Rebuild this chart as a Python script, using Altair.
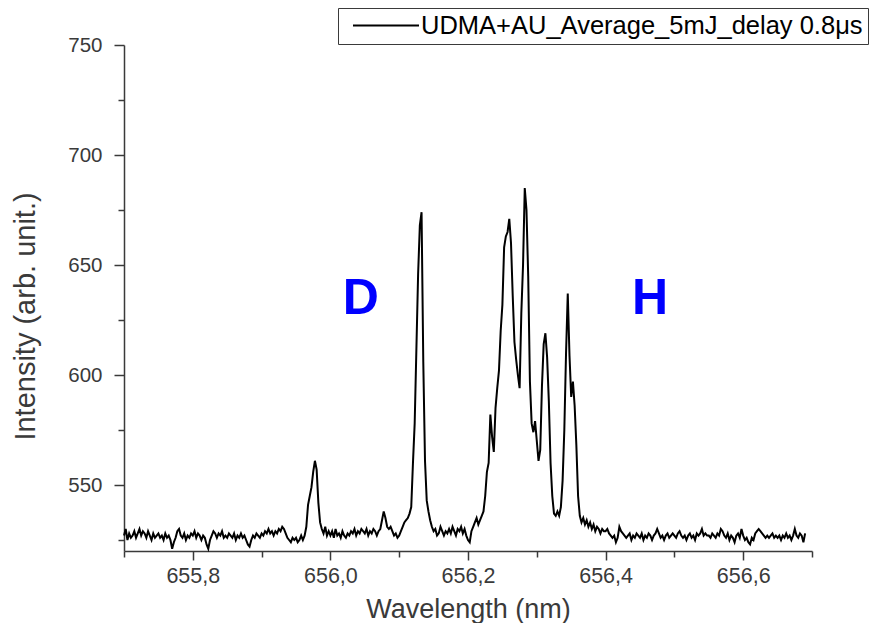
import altair as alt
import pandas as pd

# ---- data ----
WL_START = 655.70      # nm, first sample
WL_STEP = 0.0025       # nm, sampling step

intensity = [
    527, 530, 525, 528, 526, 527, 529, 526, 528, 530, 527, 529, 528, 526, 529, 527, 525, 528, 526, 527,
    528, 526, 527, 525, 528, 526, 527, 525, 521, 524, 526, 529, 530, 527, 526, 528, 525, 527, 526, 528,
    527, 529, 526, 528, 527, 525, 527, 526, 523, 521, 525, 527, 529, 528, 526, 528, 527, 529, 526, 527,
    526, 528, 527, 526, 528, 525, 527, 526, 528, 526, 527, 525, 523, 522, 525, 527, 526, 528, 527, 526,
    528, 527, 529, 528, 530, 528, 529, 527, 529, 528, 530, 529, 531, 530, 528, 526, 525, 524, 526, 525,
    526, 524, 525, 527, 525, 527, 531, 541, 545, 549, 556, 561, 557, 542, 533, 530, 528, 531, 527, 529,
    527, 529, 526, 530, 527, 528, 526, 529, 527, 526, 528, 527, 529, 528, 530, 527, 529, 528, 530, 529,
    528, 530, 527, 529, 528, 530, 529, 527, 529, 530, 534, 538, 535, 531, 530, 531, 529, 527, 528, 526,
    527, 529, 531, 533, 534, 535, 537, 540, 560, 578, 612, 646, 668, 674, 606, 561, 543, 538, 534, 531,
    529, 530, 527, 528, 531, 529, 527, 529, 528, 530, 528, 531, 529, 527, 530, 529, 531, 528, 530, 527,
    525, 524, 529, 531, 533, 535, 532, 534, 536, 538, 545, 556, 560, 582, 572, 565, 585, 594, 602, 620,
    632, 658, 663, 665, 671, 660, 636, 615, 607, 600, 594, 628, 650, 685, 675, 645, 597, 578, 574, 579,
    570, 561, 566, 595, 614, 619, 608, 588, 560, 545, 537, 536, 538, 536, 540, 552, 575, 610, 637, 609,
    590, 597, 586, 568, 545, 536, 533, 535, 532, 534, 531, 533, 530, 532, 529, 531, 530, 528, 530, 529,
    529, 530, 528, 527, 526, 527, 524, 526, 531, 529, 528, 527, 526, 527, 528, 525, 527, 526, 528, 527,
    526, 528, 525, 527, 526, 528, 527, 525, 527, 528, 530, 528, 526, 527, 525, 527, 528, 526, 527, 528,
    527, 526, 528, 529, 527, 526, 527, 525, 527, 528, 526, 527, 525, 528, 527, 528, 530, 527, 528, 527,
    527, 526, 528, 527, 526, 528, 527, 530, 529, 527, 526, 528, 525, 527, 526, 524, 527, 528, 526, 530,
    527, 525, 526, 524, 523, 526, 525, 528, 529, 530, 529, 528, 527, 526, 527, 526, 527, 528, 526, 527,
    526, 527, 525, 527, 526, 528, 526, 527, 525, 527, 530, 527, 526, 528, 527, 524, 528,
]

series_name = "UDMA+AU_Average_5mJ_delay 0.8\u03bcs\u00a0\u00a0"

label_text = ["D", "H"]
label_wl = [656.044, 656.4645]
label_int = [634.5, 634.5]

x_ticks = [655.7, 655.8, 655.9, 656.0, 656.1, 656.2, 656.3, 656.4, 656.5, 656.6, 656.7]
y_ticks = [525, 550, 575, 600, 625, 650, 675, 700, 725, 750]

wavelength = [round(WL_START + WL_STEP * i, 4) for i in range(len(intensity))]
spec = pd.DataFrame({"wl": wavelength, "I": intensity, "series": series_name})
labels = pd.DataFrame({"wl": label_wl, "I": label_int, "t": label_text})

FONT = "Liberation Sans"
GREY = "#3a3a3a"

X_MAJOR = "round(datum.value*10) % 2 == 0"
Y_MAJOR = "datum.value % 50 == 0"

x_enc = alt.X(
    "wl:Q",
    scale=alt.Scale(domain=[655.7, 656.7], nice=False, zero=False),
    axis=alt.Axis(
        title="Wavelength (nm)",
        values=x_ticks,
        labelExpr=f"{X_MAJOR} ? replace(format(datum.value, '.1f'), '.', ',') : ''",
        grid=False,
        tickSize={"condition": {"test": X_MAJOR, "value": 9}, "value": 6},
        tickColor=GREY, tickWidth=1.5,
        domainColor=GREY, domainWidth=1.5,
        labelFont=FONT, labelFontSize=21.5, labelColor=GREY, labelPadding=5,
        labelFlush=False, labelOverlap=False,
        titleFont=FONT, titleFontSize=27, titleFontWeight="normal", titleColor=GREY,
        titleBaseline="alphabetic", titleY=66,
    ),
)
y_enc = alt.Y(
    "I:Q",
    scale=alt.Scale(domain=[520, 750], nice=False, zero=False),
    axis=alt.Axis(
        title="Intensity (arb. unit.)",
        values=y_ticks,
        labelExpr=f"{Y_MAJOR} ? datum.value : ''",
        grid=False,
        tickSize={"condition": {"test": Y_MAJOR, "value": 10}, "value": 6},
        tickColor=GREY, tickWidth=1.5,
        domainColor=GREY, domainWidth=1.5,
        labelFont=FONT, labelFontSize=20.5, labelColor=GREY, labelPadding=12,
        labelFlush=False, labelOverlap=False,
        titleFont=FONT, titleFontSize=29, titleFontWeight="normal", titleColor=GREY,
        titleBaseline="middle", titleX=-99, titleY=271,
    ),
)

line = alt.Chart(spec).mark_line(strokeWidth=2, interpolate="linear").encode(
    x=x_enc,
    y=y_enc,
    color=alt.Color(
        "series:N",
        scale=alt.Scale(range=["black"]),
        legend=alt.Legend(
            title=None, orient="none", legendX=214, legendY=-37,
            symbolType="stroke", symbolSize=4356, symbolStrokeWidth=2,
            symbolOffset=9, clipHeight=25,
            labelFont=FONT, labelFontSize=25.5, labelColor="black", labelLimit=0,
            labelOffset=1, padding=5, strokeColor=GREY, fillColor="white",
        ),
    ),
)

text = alt.Chart(labels).mark_text(
    font=FONT, fontSize=50, fontWeight="bold", color="#0000FF", align="center", baseline="middle"
).encode(x="wl:Q", y="I:Q", text="t:N")

chart = alt.layer(line, text).properties(
    width=688, height=506,
    padding={"left": 116, "top": 37, "right": 59, "bottom": 72},
    autosize=alt.AutoSizeParams(type="none"),
).configure(background="white").configure_view(stroke=None)

chart.save("out.html", embed_options={"renderer": "svg", "actions": False})
